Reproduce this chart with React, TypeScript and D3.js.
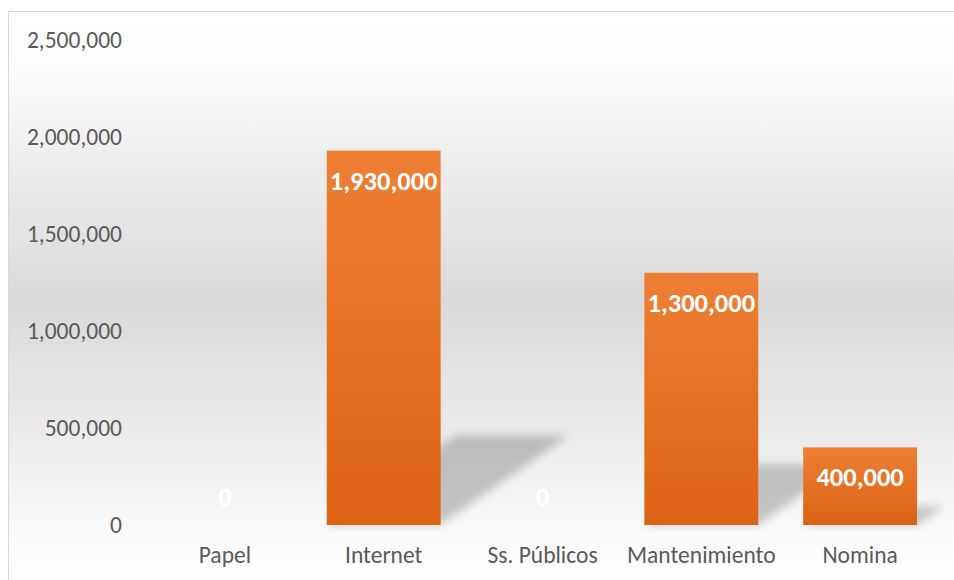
import React from "react";
import * as d3 from "d3";

const categories = ["Papel", "Internet", "Ss. Públicos", "Mantenimiento", "Nomina"];
const values = [0, 1930000, 0, 1300000, 400000];
const yTicks = [0, 500000, 1000000, 1500000, 2000000, 2500000];

const W = 954;
const H = 580;
const FONT = "Carlito, Calibri, Lato, 'Open Sans', sans-serif";

export default function App() {
  const x = d3
    .scaleBand<string>()
    .domain(categories)
    .range([145.5, 939.5])
    .paddingInner(0.283)
    .paddingOuter(0.1415);
  const y = d3.scaleLinear().domain([0, 2500000]).range([525, 40]);
  const fmt = d3.format(",");
  const bw = x.bandwidth();
  const y0 = y(0);

  return (
    <svg
      width={W}
      height={H}
      style={{ position: "absolute", left: 0, top: 0, display: "block" }}
      fontFamily={FONT}
    >
      <defs>
        <linearGradient id="bg" x1="0" y1="11" x2="0" y2="590" gradientUnits="userSpaceOnUse">
          <stop offset="0" stopColor="#ffffff" />
          <stop offset="0.08" stopColor="#fdfdfd" />
          <stop offset="0.5" stopColor="#d9d9d9" />
          <stop offset="0.92" stopColor="#fbfbfb" />
          <stop offset="1" stopColor="#ffffff" />
        </linearGradient>
        <linearGradient id="bar" x1="0" y1="0" x2="0" y2="1">
          <stop offset="0" stopColor="#ee7f34" />
          <stop offset="1" stopColor="#dc6214" />
        </linearGradient>
        <filter id="blur" x="-20%" y="-40%" width="140%" height="180%">
          <feGaussianBlur stdDeviation="4" />
        </filter>
        <clipPath id="plotClip">
          <rect x={9} y={12} width={935} height={520} />
        </clipPath>
      </defs>
      <rect x={8.5} y={11.5} width={W + 10} height={H + 10} fill="url(#bg)" stroke="#d9d9d9" strokeWidth={1} />

      {/* shadows */}
      <g clipPath="url(#plotClip)">
        {categories.map((c, i) => {
          const v = values[i];
          if (v <= 0) return null;
          const x0 = x(c)!;
          const x1 = x0 + bw;
          const h = y0 - y(v);
          const hs = h * 0.24;
          const s = hs * 1.43;
          const pts = [
            [x0, y0],
            [x1, y0],
            [x1 + s, y0 - hs],
            [x0 + s, y0 - hs],
          ]
            .map((p) => p.join(","))
            .join(" ");
          return <polygon key={c} points={pts} fill="#000" opacity={0.2} filter="url(#blur)" />;
        })}
      </g>

      {/* bars */}
      {categories.map((c, i) => {
        const v = values[i];
        if (v <= 0) return null;
        return (
          <rect key={c} x={x(c)} y={y(v)} width={bw} height={y0 - y(v)} fill="url(#bar)" />
        );
      })}

      {/* y tick labels */}
      {yTicks.map((t) => (
        <text key={t} x={122} y={y(t)} dy="0.35em" textAnchor="end" fontSize={23.5} fill="#595959">
          {fmt(t)}
        </text>
      ))}

      {/* category labels */}
      {categories.map((c) => (
        <text key={c} x={x(c)! + bw / 2} y={563} textAnchor="middle" fontSize={23.5} fill="#595959">
          {c}
        </text>
      ))}

      {/* data labels */}
      {categories.map((c, i) => {
        const v = values[i];
        const ly = v > 0 ? y(v) + 39 : y0 - 19;
        return (
          <text
            key={c}
            x={x(c)! + bw / 2}
            y={ly}
            textAnchor="middle"
            fontSize={26.5}
            fontWeight="bold"
            fill="#ffffff"
          >
            {fmt(v)}
          </text>
        );
      })}
    </svg>
  );
}
